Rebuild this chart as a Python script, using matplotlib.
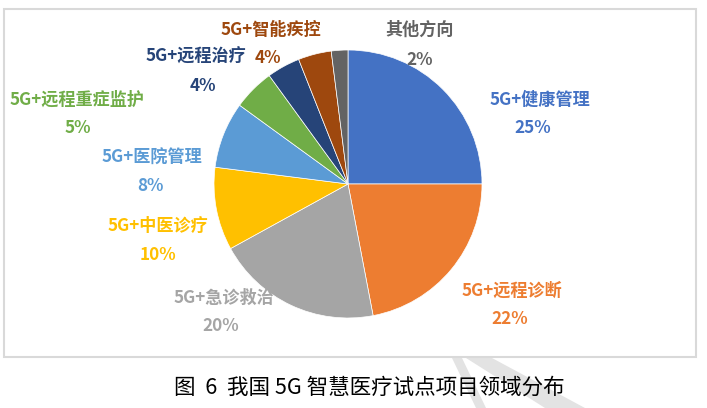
import matplotlib
matplotlib.use("Agg")
import matplotlib.pyplot as plt
from matplotlib.patches import Rectangle, Polygon

categories = ["5G+健康管理", "5G+远程诊断", "5G+急诊救治", "5G+中医诊疗", "5G+医院管理",
              "5G+远程重症监护", "5G+远程治疗", "5G+智能疾控", "其他方向"]
values = [25, 22, 20, 10, 8, 5, 4, 4, 2]
colors = ["#4472C4", "#ED7D31", "#A5A5A5", "#FFC000", "#5B9BD5",
          "#70AD47", "#264478", "#9E480E", "#636363"]
caption = "图  6  我国 5G 智慧医疗试点项目领域分布"

# label anchor positions (pixel centers of name / percent lines)
name_pos = [(540, 100), (512, 291), (224, 298), (158, 226), (152, 158),
            (77, 100), (196, 57), (271, 30), (420, 30)]
pct_pos = [(533, 128), (510, 319), (221, 326), (158, 255), (150, 186),
           (78, 128), (203, 86), (268, 58), (420, 60)]

W, H = 707, 408
plt.rcParams['font.family'] = ['Noto Sans CJK SC', 'DejaVu Sans']
fig = plt.figure(figsize=(W / 100, H / 100), dpi=100)
fig.patch.set_facecolor("white")

# chart border box
fig.patches.append(Rectangle((4 / W, 1 - 357 / H), (696 - 4) / W, (357 - 9) / H,
                             transform=fig.transFigure, fill=False,
                             edgecolor="#D9D9D9", linewidth=1.5))

cx, cy, r = 348, 184, 134
ax = fig.add_axes([(cx - r) / W, 1 - (cy + r) / H, 2 * r / W, 2 * r / H])
ax.pie(values, colors=colors, startangle=90, counterclock=False,
       wedgeprops=dict(edgecolor="white", linewidth=0.5))
ax.set_xlim(-1, 1)
ax.set_ylim(-1, 1)
ax.set_aspect("equal")
ax.axis("off")

for name, v, c, npos, ppos in zip(categories, values, colors, name_pos, pct_pos):
    fig.text(npos[0] / W, 1 - npos[1] / H, name, color=c, fontsize=12.3,
             fontweight="bold", ha="center", va="center")
    fig.text(ppos[0] / W, 1 - ppos[1] / H, f"{v}%", color=c, fontsize=12.3,
             fontweight="bold", ha="center", va="center")

# watermark strokes
for pts in [[(452, 358), (462, 358), (486, 408), (476, 408)],
            [(466, 358), (492, 358), (585, 408), (545, 408)]]:
    fig.patches.append(Polygon([(x / W, 1 - y / H) for x, y in pts], closed=True,
                               transform=fig.transFigure, facecolor="#E3E3E3",
                               edgecolor="none", zorder=0))

fig.text(369 / W, 1 - 388 / H, caption, color="black", fontsize=15.5,
         ha="center", va="center")

fig.savefig("out.png", dpi=100, facecolor="white")
